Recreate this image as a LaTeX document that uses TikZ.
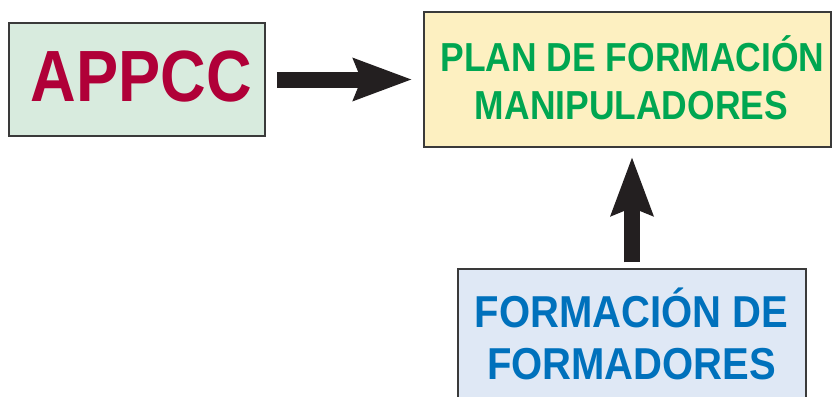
\documentclass[tikz,border=0pt]{standalone}
\usepackage{fontspec}
\newfontfamily\condA[FakeStretch=0.87]{Liberation Sans}
\newfontfamily\condB[FakeStretch=0.875]{Liberation Sans}
\newfontfamily\condC[FakeStretch=0.895]{Liberation Sans}
\usetikzlibrary{arrows.meta}
\definecolor{boxline}{HTML}{3A3A3A}
\definecolor{arrowc}{HTML}{231F20}
\definecolor{appccfill}{HTML}{D8EBDE}
\definecolor{appcctext}{HTML}{B00038}
\definecolor{planfill}{HTML}{FDF0C1}
\definecolor{plantext}{HTML}{00A651}
\definecolor{formfill}{HTML}{DFE8F5}
\definecolor{formtext}{HTML}{0071BC}
\begin{document}
\begin{tikzpicture}[x=1pt,y=-1pt,
  box/.style={draw=boxline, line width=1.5pt, rectangle, inner sep=0pt},
  conn/.style={line width=16pt, draw=arrowc,
    -{Stealth[length=59pt,width=44pt,inset=9pt,line width=0pt]}},
  lbl/.style={anchor=base, inner sep=0pt}]
\useasboundingbox (0,0) rectangle (832,396);
\clip (0,0) rectangle (832,396);
\node[box, fill=appccfill, minimum width=256pt, minimum height=113pt] (appcc) at (137,79.5) {};
\node[box, fill=planfill, minimum width=407pt, minimum height=135pt] (plan) at (627.5,79.5) {};
\node[box, fill=formfill, minimum width=348pt, minimum height=151pt] (form) at (632,344.5) {};
\node[lbl, font=\condA\bfseries\fontsize{72.6}{72.6}\selectfont, text=appcctext] (t1) at (141.5,101) {APPCC};
\node[lbl, font=\condB\bfseries\fontsize{40.5}{40.5}\selectfont, text=plantext] (t2) at (632.5,71) {PLAN DE FORMACIÓN};
\node[lbl, font=\condB\bfseries\fontsize{40.5}{40.5}\selectfont, text=plantext] (t3) at (631.5,119) {MANIPULADORES};
\node[lbl, font=\condC\bfseries\fontsize{44.7}{44.7}\selectfont, text=formtext] (t4) at (631.5,327) {FORMACIÓN DE};
\node[lbl, font=\condC\bfseries\fontsize{44.7}{44.7}\selectfont, text=formtext] (t5) at (631.5,379) {FORMADORES};
\draw[conn, shorten <=11pt, shorten >=12pt] (appcc.east) -- (plan.west);
\draw[conn, shorten <=6pt, shorten >=10pt] (form.north) -- (form.north |- plan.south);
\end{tikzpicture}
\end{document}
